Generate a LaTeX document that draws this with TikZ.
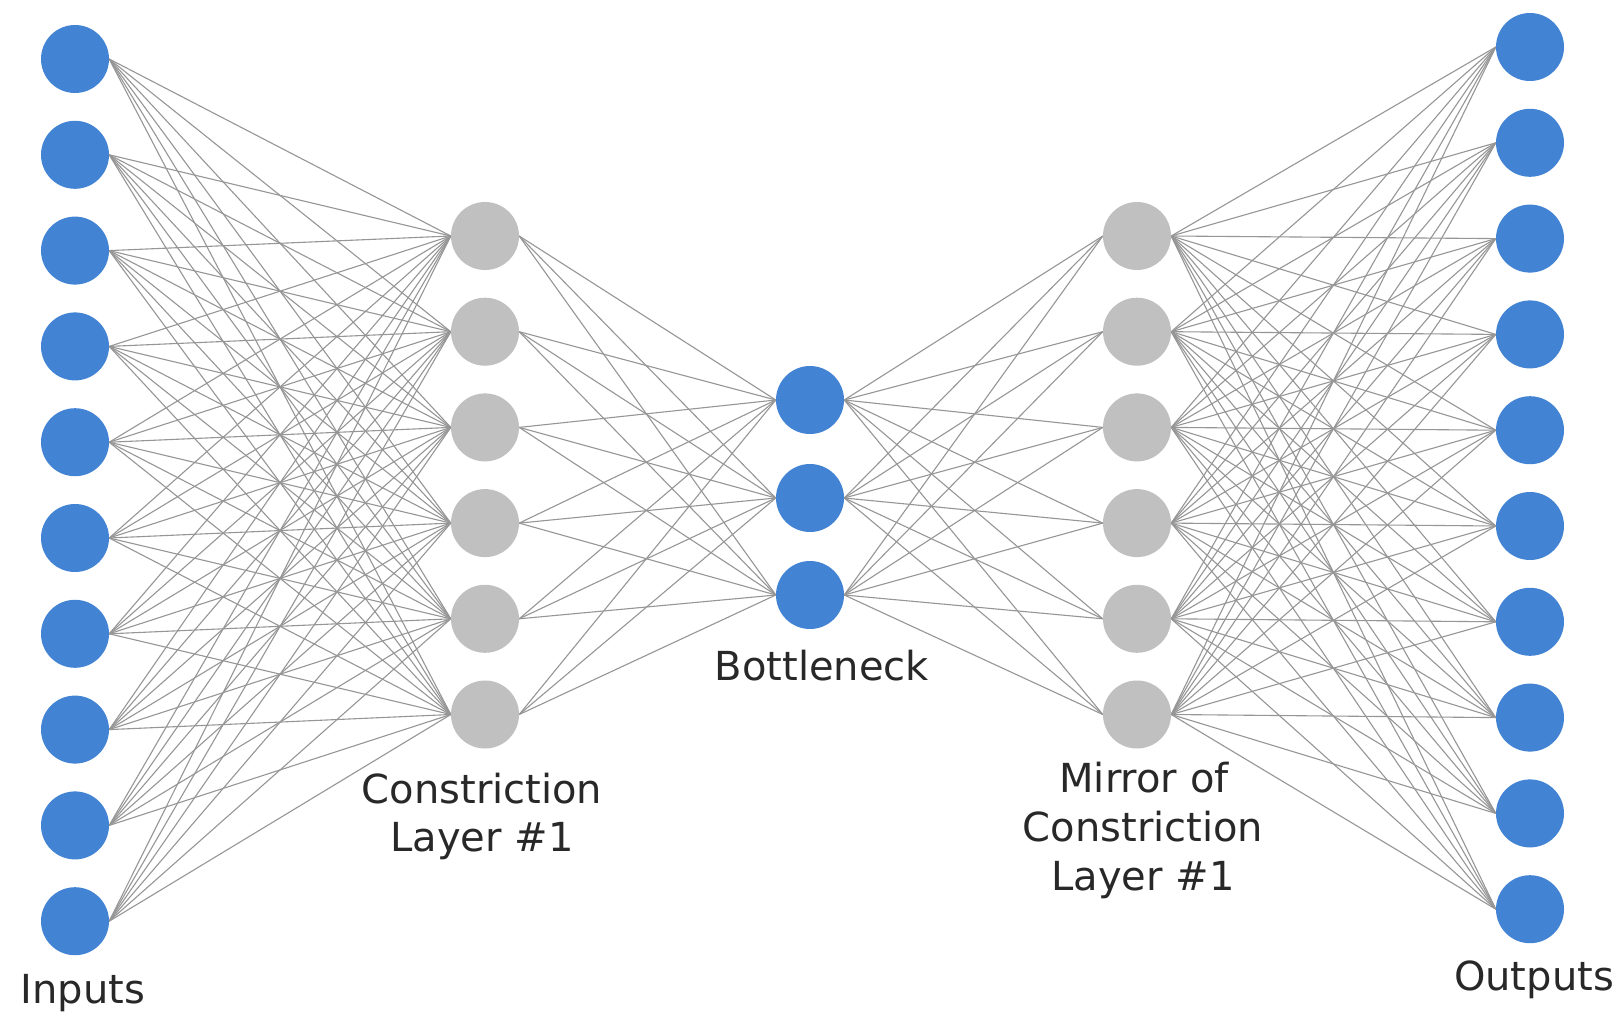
\documentclass[tikz,border=0pt]{standalone}
\usepackage{fontspec}
\setmainfont{DejaVu Sans}
\definecolor{unitblue}{RGB}{66,131,212}
\definecolor{unitgray}{RGB}{192,192,192}
\definecolor{wirecol}{RGB}{150,150,150}
\definecolor{labelink}{RGB}{40,40,40}
\pgfdeclarelayer{paper}
\pgfdeclarelayer{edges}
\pgfsetlayers{paper,edges,main}
\begin{document}
\begin{tikzpicture}[x=1pt,y=-1pt,
  unit/.style={circle,inner sep=0pt,minimum size=68pt},
  blueunit/.style={unit,fill=unitblue},
  grayunit/.style={unit,fill=unitgray},
  wire/.style={draw=wirecol,line width=1.1pt},
  caption/.style={font=\fontsize{40}{49}\selectfont,text=labelink,inner sep=0pt,anchor=base}
]
\useasboundingbox (0,0) rectangle (1623,1017);
\begin{pgfonlayer}{paper}
  \fill[white] (0,0) rectangle (1623,1017);
\end{pgfonlayer}

% input and output units
\foreach \i in {0,...,9} {
  \node[blueunit] (in\i) at (75,{59+95.8*\i}) {};
  \node[blueunit] (out\i) at (1530,{47+95.8*\i}) {};
}
% constriction layer and its mirror
\foreach \j in {0,...,5} {
  \node[grayunit] (c\j) at (485,{236+95.7*\j}) {};
  \node[grayunit] (m\j) at (1137,{236+95.7*\j}) {};
}
% bottleneck
\foreach \k/\y in {0/400,1/498,2/595}
  \node[blueunit] (b\k) at (810,\y) {};

% fully connected weights
\begin{pgfonlayer}{edges}
  \foreach \i in {0,...,9} \foreach \j in {0,...,5} {
    \draw[wire] (in\i.east) -- (c\j.west);
    \draw[wire] (m\j.east) -- (out\i.west);
  }
  \foreach \j in {0,...,5} \foreach \k in {0,1,2} {
    \draw[wire] (c\j.east) -- (b\k.west);
    \draw[wire] (b\k.east) -- (m\j.west);
  }
\end{pgfonlayer}

% captions
\node[caption] (tin) at (83,1003) {Inputs};
\node[caption] (tout) at (1534,990) {Outputs};
\node[caption] (tbot) at (822,680) {Bottleneck};
\node[caption] (tc1) at (482,803) {Constriction};
\node[caption] (tc2) at (482,851) {Layer \#1};
\node[caption] (tm1) at (1144,792) {Mirror of};
\node[caption] (tm2) at (1143,841) {Constriction};
\node[caption] (tm3) at (1143,890) {Layer \#1};
\end{tikzpicture}
\end{document}
